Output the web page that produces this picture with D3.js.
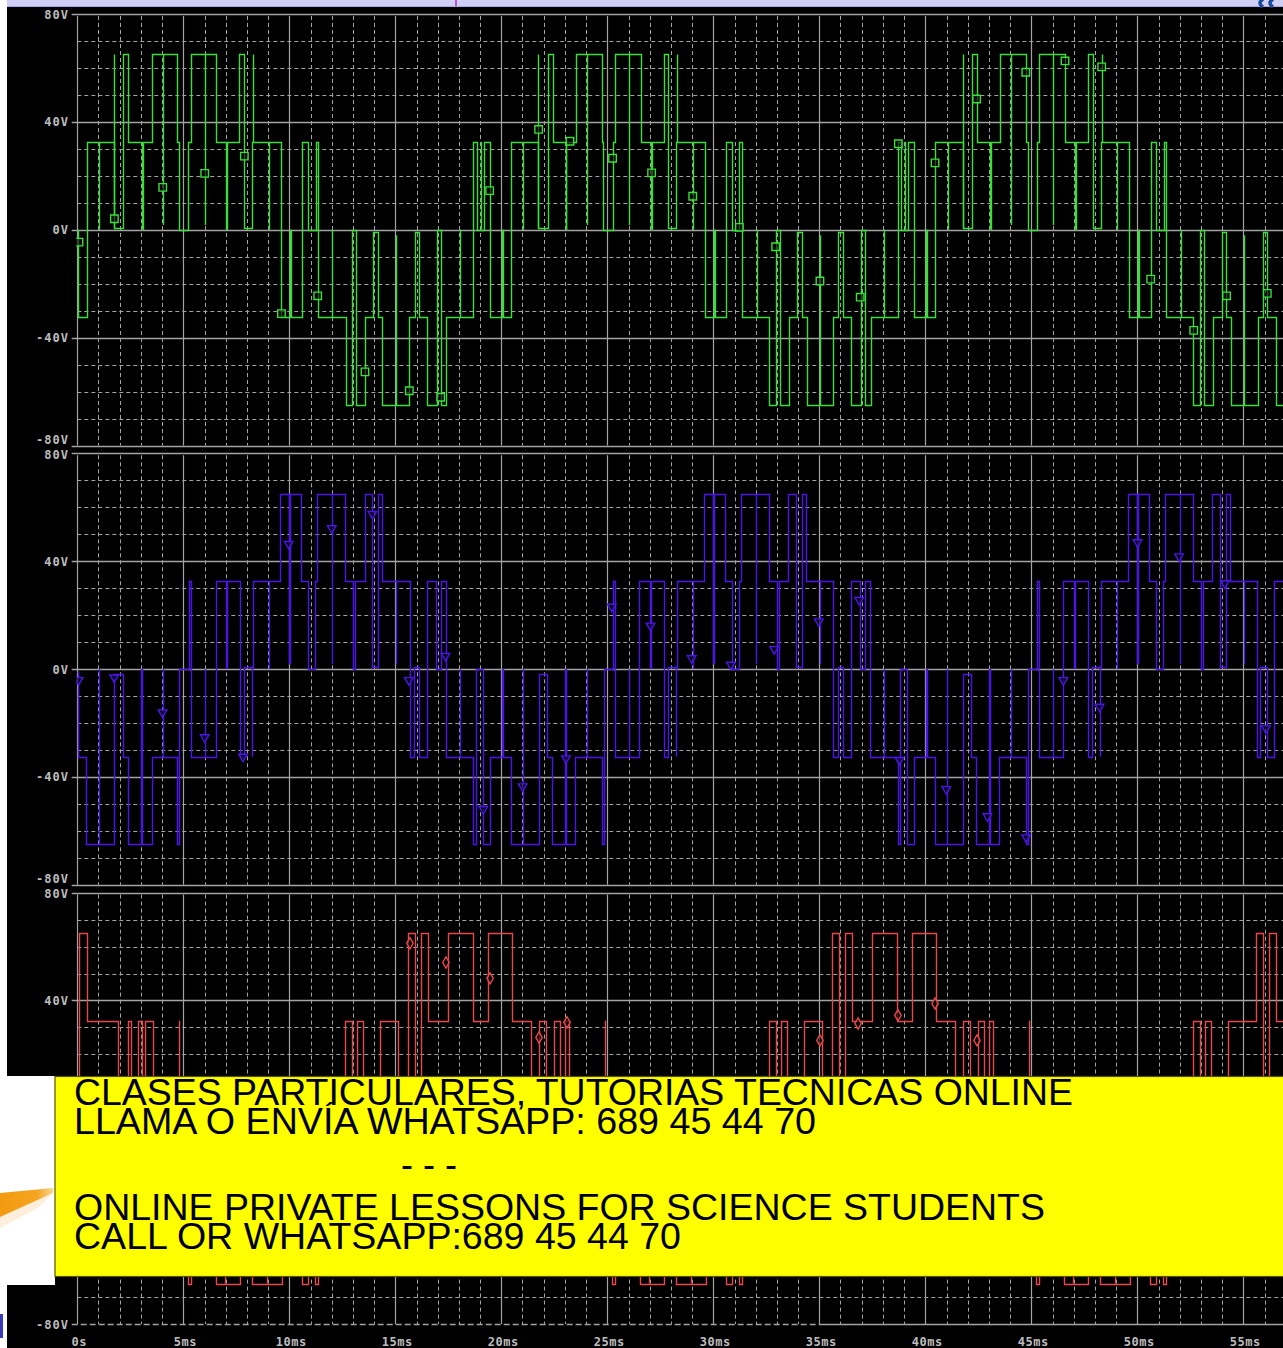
<!DOCTYPE html>
<html><head><meta charset="utf-8">
<script src="https://cdn.jsdelivr.net/npm/d3@7/dist/d3.min.js"></script>
<style>html,body{margin:0;padding:0;background:#fff;overflow:hidden}</style>
</head><body><svg id="c" width="1283" height="1348"></svg>
<script>
// ---------- data ----------
const timeTicks = [0,5,10,15,20,25,30,35,40,45,50,55];
const timeLabels = ["0s","5ms","10ms","15ms","20ms","25ms","30ms","35ms","40ms","45ms","50ms","55ms"];
const voltTicks = [80,40,0,-40,-80];
const voltLabels = ["80V","40V","0V","-40V","-80V"];

const greenSteps = [
[0,0],[0.05,-32.5],[0.44,32.5],[1.75,0.7],[2.17,65],[2.41,32.5],[3.51,65],[4.72,32.5],[4.81,0],[5.24,32.5],[5.35,65],[6.54,32.5],[7.64,65],[7.88,0.7],[8.25,32.5],[9.61,-32.5],[10.62,32.5],[10.88,0],[11.24,32.5],[11.35,-32.5],[12.66,-65],[12.94,0],[13.15,-65],[13.57,-32.5],[13.95,-1],[14.17,-32.5],[14.39,-65],[15.66,-32.5],[15.93,-1],[16.12,-32.5],[16.51,-65],[16.95,0],[17.16,-65],[17.39,-32.5],[18.68,32.5],[18.84,0],[19.18,32.5],[19.47,-32.5],
[20.46,32.5],[21.75,0.7],[22.22,65],[22.42,32.5],[23.51,65],[24.74,32.5],[24.81,0],[25.25,32.5],[25.36,65],[26.58,32.5],[27.69,65],[27.88,0.7],[28.24,32.5],[29.61,-32.5],[30.60,32.5],[30.87,0],[31.23,32.5],[31.35,-32.5],[32.64,-65],[32.94,0],[33.15,-65],[33.57,-32.5],[33.93,-1],[34.20,-32.5],[34.41,-65],[35.66,-32.5],[35.90,-1],[36.13,-32.5],[36.50,-65],[36.95,0],[37.16,-65],[37.42,-32.5],[38.73,32.5],[38.84,0],[39.20,32.5],[39.47,-32.5],
[40.46,32.5],[41.76,0.7],[42.19,65],[42.42,32.5],[43.52,65],[44.75,32.5],[44.86,0],[45.25,32.5],[45.38,65],[46.59,32.5],[47.69,65],[47.90,0.7],[48.27,32.5],[49.62,-32.5],[50.63,32.5],[50.88,0],[51.26,32.5],[51.35,-32.5],[52.64,-65],[52.96,0],[53.15,-65],[53.58,-32.5],[53.98,-1],[54.18,-32.5],[54.41,-65],[55.71,-32.5],[55.94,-1],[56.13,-32.5],[56.53,-65],[57.39,-32.5]
];
const greenSpikes = [
[1.02,0],[1.75,65],[3.04,0],[3.08,0],[4.03,1.8],[6.01,1.8],[7.01,0],[7.05,0],[8.30,65],[9.03,0],[10.03,0],[10.07,0],[12.03,0],[15.03,-2],[18.05,0],[19.03,32.5],
[20.03,0],[20.07,0],[21.04,0],[21.75,65],[23.03,0],[23.07,0],[24.03,1.8],[26.04,1.8],[27.05,0],[27.09,0],[28.27,65],[29.06,0],[30.03,0],[30.07,0],[32.05,0],[35.03,-2],[38.03,0],[39.03,32.5],
[40.03,0],[40.07,0],[41.06,0],[41.76,65],[43.04,0],[43.08,0],[44.04,1.8],[46.04,1.8],[47.05,0],[47.09,0],[48.32,65],[49.06,0],[50.03,0],[50.07,0],[52.05,0],[55.03,-2]
];
const greenMarkers = [
[0.08,-4.6],[1.75,4.1],[4.03,15.7],[6.01,20.9],[7.88,27.3],[9.63,-31.1],[11.34,-24.5],[13.57,-52.7],[15.66,-59.7],[17.14,-62.1],[19.45,14.5],[21.76,37.2],[23.24,32.8],[25.25,26.5],[27.09,21.1],[29.03,12.4],[31.23,0.9],[32.94,-6.3],[35.03,-19.0],[36.93,-25.0],[38.73,31.9],[40.46,24.8],[42.42,48.5],[44.74,58.4],[46.59,62.6],[48.32,60.4],[50.63,-18.3],[52.66,-37.3],[54.21,-24.5],[56.13,-23.6]
];

const blueSteps = [
[0,-1],[0.04,-32.5],[0.43,-65],[1.74,-1.8],[2.17,-32.5],[2.39,-65],[3.51,-32.5],[4.72,-65],[4.82,0],[5.25,32.5],[5.34,-32.5],[6.55,32.5],[7.67,-32.5],[7.86,0.9],[8.27,32.5],[9.54,65],[10.56,32.5],[10.90,0],[11.22,32.5],[11.33,65],[12.65,32.5],[12.99,0],[13.10,32.5],[13.55,65],[13.92,0.9],[14.20,65],[14.39,32.5],[15.69,-32.5],[15.88,0.9],[16.10,-32.5],[16.50,32.5],[16.91,0],[17.14,32.5],[17.37,-32.5],[18.68,-65],[18.81,0],[19.15,-65],[19.46,-32.5],
[20.45,-65],[21.76,-1.8],[22.17,-32.5],[22.41,-65],[23.48,-32.5],[24.74,-65],[24.84,0],[25.26,32.5],[25.34,-32.5],[26.51,32.5],[27.67,-32.5],[27.86,0.9],[28.29,32.5],[29.57,65],[30.57,32.5],[30.90,0],[31.22,32.5],[31.31,65],[32.63,32.5],[32.99,0],[33.10,32.5],[33.52,65],[33.89,0.9],[34.17,65],[34.35,32.5],[35.64,-32.5],[35.88,0.9],[36.10,-32.5],[36.50,32.5],[36.91,0],[37.14,32.5],[37.37,-32.5],[38.69,-65],[38.81,0],[39.15,-65],[39.46,-32.5],
[40.45,-65],[41.76,-1.8],[42.17,-32.5],[42.41,-65],[43.48,-32.5],[44.74,-65],[44.84,0],[45.26,32.5],[45.34,-32.5],[46.51,32.5],[47.67,-32.5],[47.86,0.9],[48.29,32.5],[49.57,65],[50.57,32.5],[50.90,0],[51.22,32.5],[51.31,65],[52.63,32.5],[52.99,0],[53.10,32.5],[53.52,65],[53.89,0.9],[54.17,65],[54.35,32.5],[55.64,-32.5],[55.80,0.9],[56.10,-32.5],[56.47,32.5],[56.91,0],[57.14,32.5]
];
const blueSpikes = [
[1.01,0],[3.01,0],[3.05,0],[4.02,0],[6.01,0],[7.02,0],[7.06,0],[8.25,-32.5],[9.02,0],[10.00,1.8],[10.04,1.8],[12.00,1.8],[15.02,1.8],[18.03,0],
[20.02,0],[20.06,0],[21.01,0],[23.01,0],[23.05,0],[24.02,0],[26.01,0],[27.02,0],[27.06,0],[28.25,-32.5],[29.02,0],[30.00,1.8],[30.04,1.8],[32.00,1.8],[35.02,1.8],[38.03,0],
[40.02,0],[40.06,0],[41.01,0],[43.01,0],[43.05,0],[44.02,0],[46.01,0],[47.02,0],[47.06,0],[48.25,-32.5],[49.02,0],[50.00,1.8],[50.04,1.8],[52.00,1.8],[55.02,1.8]
];
const blueMarkers = [
[0.06,-4.1],[1.74,-3.1],[4.02,-16.1],[6.01,-25.3],[7.82,-32.5],[9.97,46.4],[12.0,52.2],[13.92,57.5],[15.64,-4.1],[17.37,4.9],[19.15,-51.9],[21.01,-43.5],[23.05,-33.1],[25.21,23.1],[27.04,16.1],[28.98,4.0],[30.83,1.6],[32.87,7.4],[34.98,17.7],[36.88,25.6],[38.78,-33.7],[40.99,-44.5],[42.93,-54.6],[44.76,-62.4],[46.51,-4.1],[48.22,-14.0],[50.01,47.0],[51.97,41.8],[54.13,31.8],[56.07,-22.0]
];

const redSteps = [
[0,0],[0.08,65],[0.46,32.5],[1.92,0],[2.40,32.5],[2.55,0],[2.85,32.5],[3.04,0],[3.18,32.5],[3.55,0],[3.90,-32.5],[5.23,-65],[5.35,-32.5],[6.55,-65],[7.67,-32.5],[8.23,-65],[9.65,-32.5],[10.60,-65],[10.88,-32.5],[11.21,-65],[11.35,-32.5],[12.30,0],[12.62,32.5],[12.95,0],[13.19,32.5],[13.48,0],[14.28,32.5],[15.13,0],[15.62,65],[15.93,0],[16.22,65],[16.55,32.5],[17.48,65],[18.66,32.5],[19.37,65],[20.50,32.5],[21.40,0],[21.80,32.5],[22.10,0],[22.50,32.5],[22.75,0],[23.00,32.5],[23.20,0],[23.90,-32.5],
[25.23,-65],[25.35,-32.5],[26.55,-65],[27.67,-32.5],[28.23,-65],[29.65,-32.5],[30.60,-65],[30.88,-32.5],[31.21,-65],[31.35,-32.5],[32.30,0],[32.62,32.5],[32.95,0],[33.19,32.5],[33.48,0],[34.28,32.5],[35.13,0],[35.62,65],[35.93,0],[36.22,65],[36.55,32.5],[37.48,65],[38.66,32.5],[39.37,65],[40.50,32.5],[41.40,0],[41.80,32.5],[42.10,0],[42.50,32.5],[42.75,0],[43.00,32.5],[43.20,0],[43.90,-32.5],
[45.23,-65],[45.35,-32.5],[46.55,-65],[47.67,-32.5],[48.23,-65],[49.65,-32.5],[50.60,-65],[50.88,-32.5],[51.21,-65],[51.35,-32.5],[52.30,0],[52.62,32.5],[52.95,0],[53.19,32.5],[53.48,0],[54.28,32.5],[55.62,65],[55.93,0],[56.22,65],[56.55,32.5]
];
const redSpikes = [[4.80,32.5],[6.97,0],[8.96,0],[24.89,32.5],[26.97,0],[28.96,0],[44.89,32.5],[46.97,0],[48.96,0]];
const redMarkers = [[15.69,61.2],[17.39,54.1],[19.47,48.2],[21.78,26.3],[23.10,31.9],[35.03,25.2],[36.83,31.5],[38.71,34.5],[40.46,38.9],[42.44,25.2]];

const bannerBlocks = [
  ["CLASES PARTICULARES, TUTORIAS TECNICAS ONLINE","LLAMA O ENVÍA WHATSAPP: 689 45 44 70"],
  ["- - -"],
  ["ONLINE PRIVATE LESSONS FOR SCIENCE STUDENTS","CALL OR WHATSAPP:689 45 44 70"]
];

// ---------- drawing ----------
const W = 1283, H = 1348;
const svg = d3.select("#c");
svg.append("rect").attr("width", W).attr("height", H).attr("fill", "#000");
// window chrome
svg.append("rect").attr("x",0).attr("y",0).attr("width",W).attr("height",7).attr("fill","#cfcff6");
svg.append("rect").attr("x",0).attr("y",6).attr("width",W).attr("height",1).attr("fill","#a8a8e0");
svg.append("rect").attr("x",455).attr("y",0).attr("width",2).attr("height",6).attr("fill","#c050d0");
svg.append("path").attr("d","M1263,-1 q-6,4 0,8 M1273,-1 q-6,4 0,8").attr("stroke","#1b4b9a").attr("stroke-width",3.5).attr("fill","none");
svg.append("rect").attr("x",0).attr("y",0).attr("width",7).attr("height",H).attr("fill","#fff");
svg.append("rect").attr("x",0).attr("y",1314).attr("width",3).attr("height",24).attr("fill","#3a3ab8");

const x = d3.scaleLinear().domain([0, 60]).range([77.3, 1349.3]);
const PH = 431.5;
const panels = [
  {top: 14, steps: greenSteps, spikes: greenSpikes, markers: greenMarkers, color: "#3ade3a", sym: d3.symbolSquare, size: 56, rot: 0},
  {top: 453.3, steps: blueSteps, spikes: blueSpikes, markers: blueMarkers, color: "#4b14e8", sym: d3.symbolTriangle, size: 32, rot: 180},
  {top: 892.6, steps: redSteps, spikes: redSpikes, markers: redMarkers, color: "#e5484d", sym: d3.symbolDiamond, size: 36, rot: 0}
];
const gridCol = "#a3a3a3";
const bis = d3.bisector(d => d[0]).right;
const valAt = (steps, t) => steps[Math.max(0, bis(steps, t) - 1)][1];
const defs = svg.append("defs");

panels.forEach((p, i) => {
  const y = d3.scaleLinear().domain([-80, 80]).range([p.top + PH, p.top]);
  const g = svg.append("g");
  const minorV = d3.range(-70, 80, 10).filter(v => v % 40 !== 0);
  g.selectAll(".hd").data(minorV).join("line")
    .attr("x1", x(0)).attr("x2", W).attr("y1", d => Math.round(y(d)) + 0.5).attr("y2", d => Math.round(y(d)) + 0.5)
    .attr("stroke", gridCol).attr("stroke-dasharray", "4,3").attr("stroke-width", 1);
  const minorT = d3.range(1, 61, 1).filter(t => t % 5 !== 0);
  g.selectAll(".vd").data(minorT).join("line")
    .attr("x1", d => Math.round(x(d)) + 0.5).attr("x2", d => Math.round(x(d)) + 0.5)
    .attr("y1", p.top + 2).attr("y2", p.top + PH)
    .attr("stroke", gridCol).attr("stroke-dasharray", "4,3").attr("stroke-width", 1);
  g.selectAll(".vs").data(d3.range(0, 61, 5)).join("line")
    .attr("x1", d => Math.round(x(d)) + 0.5).attr("x2", d => Math.round(x(d)) + 0.5)
    .attr("y1", p.top + 2).attr("y2", p.top + PH)
    .attr("stroke", gridCol).attr("stroke-width", 1.2);
  g.selectAll(".hs").data(voltTicks).join("line")
    .attr("x1", d => (i === 2 && d === -80) ? 820 : 71.7).attr("x2", W)
    .attr("y1", d => Math.round(y(d)) + 0.5).attr("y2", d => Math.round(y(d)) + 0.5)
    .attr("stroke", gridCol).attr("stroke-width", 1.3);
  if (i === 2) {
    g.append("line").attr("x1", 71.7).attr("x2", 820).attr("y1", Math.round(y(-80)) + 0.5).attr("y2", Math.round(y(-80)) + 0.5)
      .attr("stroke", gridCol).attr("stroke-width", 1.3).attr("stroke-dasharray", "6,3");
  }
  g.selectAll("text").data(voltTicks).join("text")
    .attr("x", 69)
    .attr("y", d => (d === -80 && i < 2) ? y(d) - 1.8 : (d === 80 && i > 0) ? y(d) + 5.2 : y(d) + 4.5)
    .attr("text-anchor", "end")
    .attr("font-family", "DejaVu Sans Mono, monospace").attr("font-weight", "bold").attr("font-size", 12)
    .attr("letter-spacing", 1).attr("fill", "#bdbdbd")
    .text((d, k) => voltLabels[k]);
  const cid = "pc" + i;
  defs.append("clipPath").attr("id", cid).append("rect")
    .attr("x", x(0) - 1).attr("y", p.top).attr("width", W).attr("height", PH);
  const tg = g.append("g").attr("clip-path", `url(#${cid})`);
  const pts = p.steps.concat([[60, p.steps[p.steps.length - 1][1]]]);
  const line = d3.line().x(d => Math.round(x(d[0])) + 0.5).y(d => Math.round(y(d[1])) + 0.5).curve(d3.curveStepAfter);
  tg.append("path").attr("d", line(pts)).attr("fill", "none").attr("stroke", p.color).attr("stroke-width", 1.4);
  tg.selectAll(".sp").data(p.spikes).join("line")
    .attr("x1", d => Math.round(x(d[0])) + 0.5).attr("x2", d => Math.round(x(d[0])) + 0.5)
    .attr("y1", d => y(valAt(p.steps, d[0]))).attr("y2", d => y(d[1]))
    .attr("stroke", p.color).attr("stroke-width", 1.4);
  tg.selectAll(".mk").data(p.markers).join("path")
    .attr("d", d3.symbol().type(p.sym).size(p.size))
    .attr("transform", d => `translate(${x(d[0])},${y(d[1])}) rotate(${p.rot})`)
    .attr("fill", "#000").attr("fill-opacity", 0.6).attr("stroke", p.color).attr("stroke-width", 1.4);
});

svg.selectAll(".xl").data(timeTicks).join("text")
  .attr("x", d => x(d) + 2).attr("y", 1346).attr("text-anchor", "middle")
  .attr("font-family", "DejaVu Sans Mono, monospace").attr("font-weight", "bold").attr("font-size", 12)
  .attr("letter-spacing", 0.5).attr("fill", "#bdbdbd")
  .text((d, k) => timeLabels[k]);

// overlay: white patch + orange arrow
svg.append("rect").attr("x", 0).attr("y", 1076).attr("width", 55).attr("height", 209).attr("fill", "#fff");
const og = defs.append("linearGradient").attr("id", "og").attr("x1", 0).attr("x2", 1).attr("y1", 0).attr("y2", 0);
og.append("stop").attr("offset", 0).attr("stop-color", "#f29a10");
og.append("stop").attr("offset", 0.7).attr("stop-color", "#f5a520");
og.append("stop").attr("offset", 1).attr("stop-color", "#fbd690");
svg.append("path").attr("d", "M0,1216 L53,1193 L38,1208 L0,1228 Z").attr("fill", "#fcebd2").attr("opacity", 0.8);
svg.append("path").attr("d", "M0,1193 L53,1188 L53,1193 L0,1217 Z").attr("fill", "url(#og)");

// banner
svg.append("rect").attr("x", 55).attr("y", 1076.5).attr("width", 1240).attr("height", 200)
  .attr("fill", "#ffff00").attr("stroke", "#55550a").attr("stroke-width", 1.2);
const blockPos = [
  [{x: 74, y: 1105, w: 999}, {x: 74, y: 1133.5, w: 742}],
  [{x: 401, y: 1177, w: 56}],
  [{x: 74, y: 1219.5, w: 971}, {x: 74, y: 1248.5, w: 607}]
];
bannerBlocks.forEach((lines, b) => {
  const t = svg.append("text")
    .attr("font-family", "Liberation Sans, Arial, sans-serif").attr("font-size", 36).attr("fill", "#000");
  lines.forEach((s, k) => {
    t.append("tspan").attr("x", blockPos[b][k].x).attr("y", blockPos[b][k].y)
      .attr("textLength", blockPos[b][k].w).attr("lengthAdjust", "spacingAndGlyphs").text(s);
  });
});
</script>
</body></html>
